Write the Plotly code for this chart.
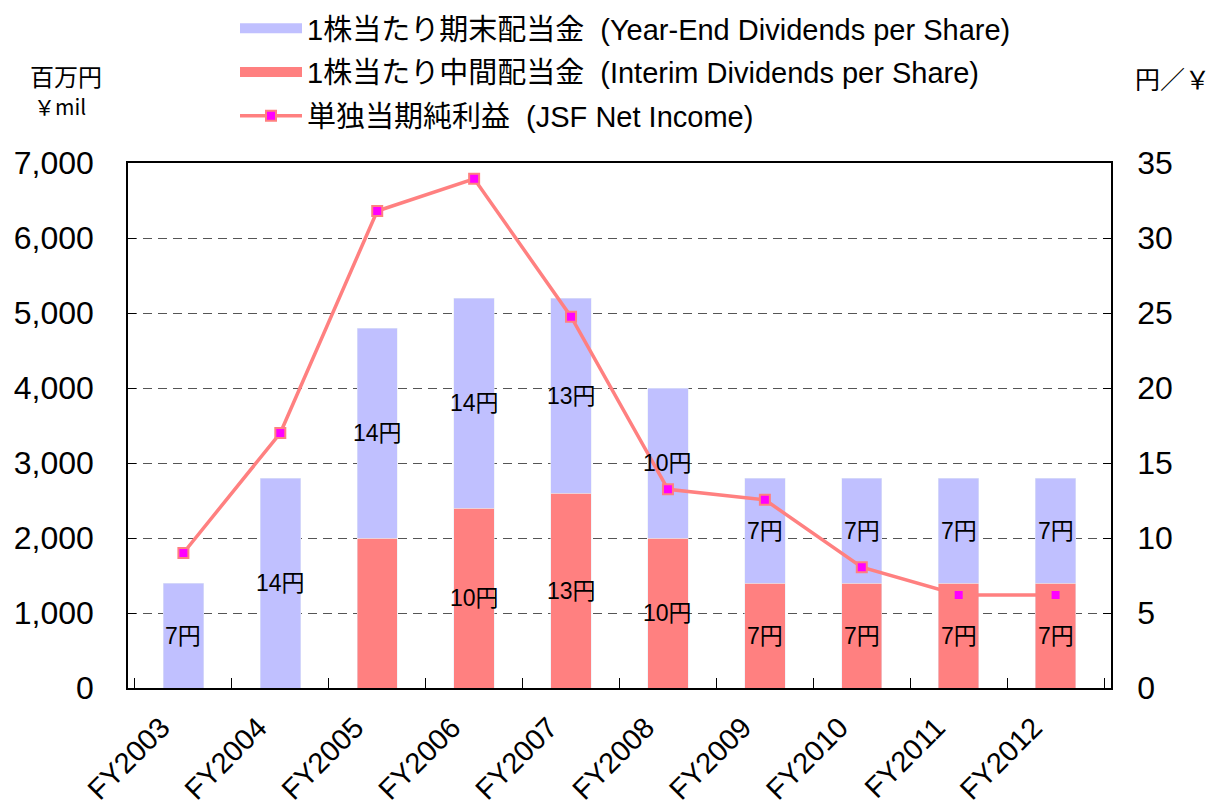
import plotly.graph_objects as go

# ---- data ----
years = ["FY2003", "FY2004", "FY2005", "FY2006", "FY2007",
         "FY2008", "FY2009", "FY2010", "FY2011", "FY2012"]
interim_div = [0, 0, 10, 12, 13, 10, 7, 7, 7, 7]          # 円 / share
yearend_div = [7, 14, 14, 14, 13, 10, 7, 7, 7, 7]         # 円 / share
net_income = [1800, 3400, 6360, 6790, 4950, 2650, 2510, 1610, 1240, 1240]  # 百万円
interim_labels = ["", "", "", "10円", "13円", "10円", "7円", "7円", "7円", "7円"]
yearend_labels = ["7円", "14円", "14円", "14円", "13円", "10円", "7円", "7円", "7円", "7円"]

name_yearend = "1株当たり期末配当金 \u00a0(Year-End Dividends per Share)"
name_interim = "1株当たり中間配当金 \u00a0(Interim Dividends per Share)"
name_income = "単独当期純利益 \u00a0(JSF Net Income)"

FONT = "Liberation Sans, Arial, Noto Sans CJK JP, sans-serif"
CJK = "Noto Sans CJK JP, sans-serif"
LAV = "#C0C0FF"
SAL = "#FF8080"

fig = go.Figure()
fig.add_trace(go.Bar(x=years, y=interim_div, name=name_interim, marker_color=SAL,
                     yaxis="y", showlegend=False))
fig.add_trace(go.Bar(x=years, y=yearend_div, name=name_yearend, marker_color=LAV,
                     yaxis="y", showlegend=False))
fig.add_trace(go.Scatter(x=years, y=net_income, name=name_income, yaxis="y2",
                         mode="lines+markers",
                         line=dict(color=SAL, width=3.5),
                         marker=dict(symbol="square", size=10, color="#FF00FF",
                                     line=dict(color=SAL, width=2)),
                         legendrank=3, legendgroup="c"))
# legend swatches for the bar series (wide rectangles like the original)
fig.add_trace(go.Scatter(x=[None], y=[None], mode="lines", name=name_yearend,
                         line=dict(color=LAV, width=20), yaxis="y",
                         legendrank=1, legendgroup="a", hoverinfo="skip"))
fig.add_trace(go.Scatter(x=[None], y=[None], mode="lines", name=name_interim,
                         line=dict(color=SAL, width=20), yaxis="y",
                         legendrank=2, legendgroup="b", hoverinfo="skip"))

annotations = []
for i, yr in enumerate(years):
    if interim_labels[i]:
        annotations.append(dict(x=yr, y=interim_div[i] / 2, xref="x", yref="y",
                                text=interim_labels[i], showarrow=False,
                                font=dict(family=FONT, size=23, color="black")))
    if yearend_labels[i]:
        annotations.append(dict(x=yr, y=interim_div[i] + yearend_div[i] / 2, xref="x", yref="y",
                                text=yearend_labels[i], showarrow=False,
                                font=dict(family=FONT, size=23, color="black")))

L, R, T, B = 128, 102, 163, 119
W, H = 1213, 807
pw, ph = W - L - R, H - T - B

def px(xp):
    return (xp - L) / pw

def py(yp):
    return (H - B - yp) / ph

annotations += [
    dict(x=px(66), y=py(75), xref="paper", yref="paper", text="百万円", showarrow=False,
         xanchor="center", yanchor="middle",
         font=dict(family=CJK, size=24, color="black")),
    dict(x=px(60), y=py(106), xref="paper", yref="paper", text="￥mil", showarrow=False,
         xanchor="center", yanchor="middle",
         font=dict(family=CJK, size=21, color="black")),
    dict(x=px(1172), y=py(78), xref="paper", yref="paper", text="円／￥", showarrow=False,
         xanchor="center", yanchor="middle",
         font=dict(family=CJK, size=25, color="black")),
]

fig.update_layout(
    width=W, height=H,
    margin=dict(l=L, r=R, t=T, b=B, autoexpand=False),
    paper_bgcolor="white", plot_bgcolor="white",
    barmode="stack", bargap=0.583,
    font=dict(family=FONT, color="black"),
    showlegend=True,
    legend=dict(x=px(235), y=py(3), xanchor="left", yanchor="top",
                font=dict(family=FONT, size=29, color="black"),
                traceorder="grouped", tracegroupgap=3, itemwidth=62,
                bgcolor="rgba(0,0,0,0)"),
    annotations=annotations,
    xaxis=dict(showline=True, linecolor="black", linewidth=2, mirror=True,
               ticks="inside", tickson="boundaries", ticklen=10, tickcolor="black",
               tickangle=-45, tickfont=dict(family=FONT, size=29, color="black"),
               ticklabelstandoff=9, ticklabelshift=-22,
               showgrid=False, automargin=False),
    yaxis=dict(side="right", range=[0, 35], dtick=5, showline=True, linecolor="black",
               linewidth=1.5, ticks="inside", ticklen=8, tickcolor="black",
               tickfont=dict(family=FONT, size=32, color="black"),
               ticklabelstandoff=18,
               showgrid=True, gridcolor="#555555", gridwidth=1, griddash="9px,6px",
               zeroline=False, automargin=False),
    yaxis2=dict(overlaying="y", side="left", range=[0, 7000], dtick=1000, tickformat=",",
                showline=True, linecolor="black", linewidth=1.5,
                ticks="inside", ticklen=8, tickcolor="black",
                tickfont=dict(family=FONT, size=32, color="black"),
                ticklabelstandoff=26,
                showgrid=False, zeroline=False, automargin=False),
)

fig.write_html("out.html", config={"displayModeBar": False},
               post_script="document.body.style.margin='0';")
